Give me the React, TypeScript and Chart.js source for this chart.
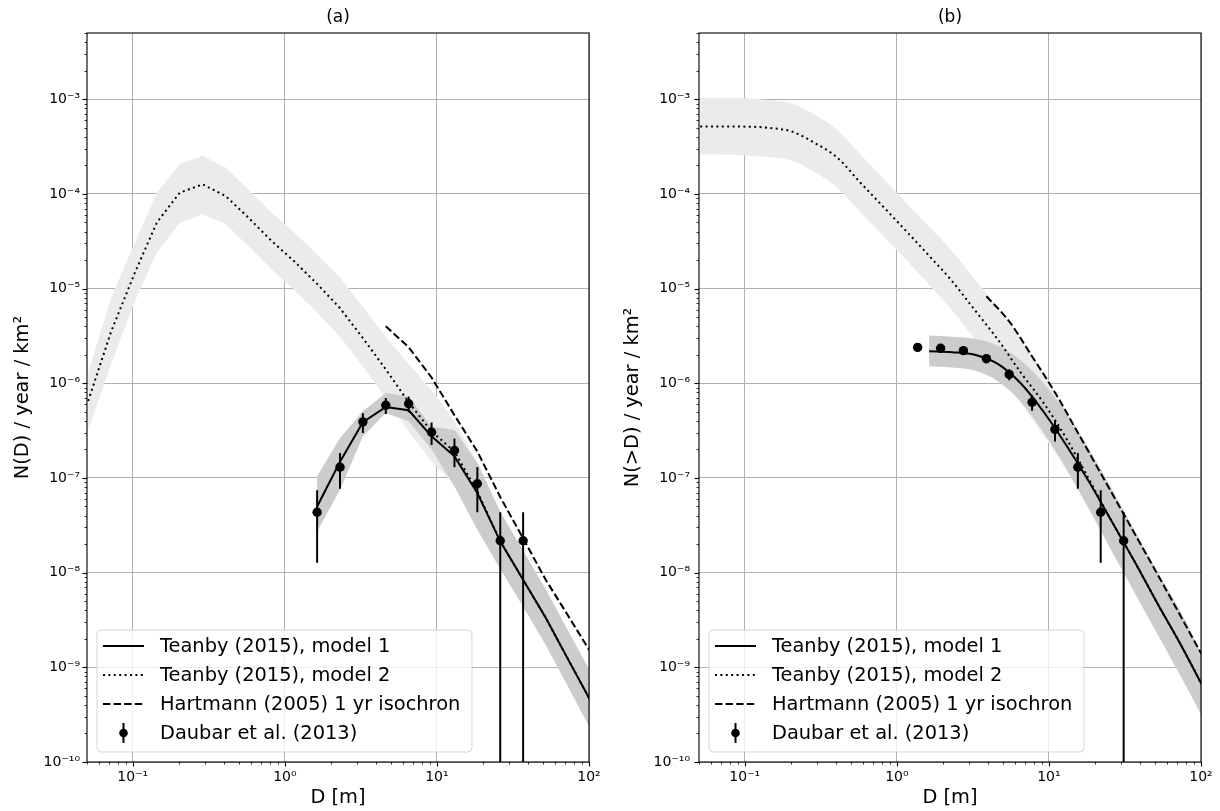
import React, { useEffect, useRef } from "react";
import { Chart, registerables } from "chart.js";
Chart.register(...registerables);

const FONT = "'DejaVu Sans', 'Liberation Sans', sans-serif";

// ---------- axis ticks ----------
const xTickValues = [0.1, 1, 10, 100];
const xTickLabels = ["10⁻¹", "10⁰", "10¹", "10²"];
const yTickValues = [1e-10, 1e-9, 1e-8, 1e-7, 1e-6, 1e-5, 1e-4, 1e-3];
const yTickLabels = ["10⁻¹⁰", "10⁻⁹", "10⁻⁸", "10⁻⁷", "10⁻⁶", "10⁻⁵", "10⁻⁴", "10⁻³"];

const legendLabels = [
  "Teanby (2015), model 1",
  "Teanby (2015), model 2",
  "Hartmann (2005) 1 yr isochron",
  "Daubar et al. (2013)",
];

// ---------- shared diameters ----------
const modelD = [0.0509, 0.072, 0.1019, 0.1441, 0.2038, 0.2881, 0.4075, 0.5763, 0.815, 1.1526, 1.63, 2.305, 3.26, 4.61, 6.52, 9.22, 13.04, 18.44, 26.08, 36.88, 52.16, 73.76, 104.3];
const binD = [1.63, 2.305, 3.26, 4.61, 6.52, 9.22, 13.04, 18.44, 26.08, 36.88, 52.16, 73.76, 104.3];
const edgeD = [1.37, 1.94, 2.74, 3.88, 5.48, 7.75, 10.96, 15.5, 21.9, 31.0];

// ---------- panel (a): N(D) ----------
const daubarA = [4.34e-8, 1.3e-7, 3.91e-7, 5.86e-7, 6.08e-7, 3.04e-7, 1.95e-7, 8.68e-8, 2.17e-8, 2.17e-8];
const daubarErrA = [3.07e-8, 5.32e-8, 9.21e-8, 1.128e-7, 1.149e-7, 8.12e-8, 6.51e-8, 4.34e-8, 2.17e-8, 2.17e-8];
const model1A = [5.0e-8, 1.48e-7, 3.88e-7, 5.62e-7, 5.19e-7, 2.75e-7, 1.69e-7, 6.93e-8, 2.14e-8, 8.4e-9, 3.3e-9, 1.17e-9, 4.2e-10];
const model1UpA = [1.04e-7, 2.64e-7, 5.06e-7, 7.9e-7, 7.2e-7, 3.5e-7, 3.2e-7, 1.45e-7, 4.4e-8, 1.7e-8, 6.6e-9, 2.35e-9, 8.4e-10];
const model1LoA = [2.72e-8, 7.5e-8, 2.75e-7, 4.86e-7, 3.98e-7, 2.0e-7, 8.1e-8, 2.84e-8, 1.1e-8, 4.4e-9, 1.7e-9, 6.0e-10, 2.1e-10];
const model2A = [6.5e-7, 3.5e-6, 1.4e-5, 5.0e-5, 1.03e-4, 1.26e-4, 9.5e-5, 5.6e-5, 3.2e-5, 1.94e-5, 1.12e-5, 6.2e-6, 3.0e-6, 1.4e-6, 6.3e-7, 3.1e-7, 1.9e-7, 7.2e-8, 2.14e-8, 8.4e-9, 3.3e-9, 1.17e-9, 4.2e-10];
const model2UpA = [1.3e-6, 8.0e-6, 2.9e-5, 1.03e-4, 2.06e-4, 2.52e-4, 1.9e-4, 1.12e-4, 6.4e-5, 3.9e-5, 2.3e-5, 1.3e-5, 6.4e-6, 3.1e-6, 1.6e-6, 8.5e-7, 4.0e-7, 1.45e-7, 4.4e-8, 1.7e-8, 6.6e-9, 2.35e-9, 8.4e-10];
const model2LoA = [3.2e-7, 1.6e-6, 7.0e-6, 2.4e-5, 4.96e-5, 6.1e-5, 4.8e-5, 2.8e-5, 1.6e-5, 9.7e-6, 5.6e-6, 3.1e-6, 1.5e-6, 7.0e-7, 3.1e-7, 1.5e-7, 8.5e-8, 2.84e-8, 1.1e-8, 4.4e-9, 1.7e-9, 6.0e-10, 2.1e-10];
const hartmannDA = [4.61, 6.52, 9.22, 13.04, 18.44, 26.08, 36.88, 52.16, 73.76, 104.3];
const hartmannA = [4.0e-6, 2.4e-6, 1.15e-6, 4.6e-7, 1.9e-7, 6.3e-8, 2.3e-8, 8.3e-9, 3.4e-9, 1.38e-9];

// ---------- panel (b): N(>D) ----------
const daubarB = [2.39e-6, 2.34e-6, 2.21e-6, 1.82e-6, 1.24e-6, 6.3e-7, 3.26e-7, 1.3e-7, 4.34e-8, 2.17e-8];
const daubarErrB = [2.28e-7, 2.25e-7, 2.19e-7, 1.99e-7, 1.64e-7, 1.17e-7, 8.4e-8, 5.3e-8, 3.07e-8, 2.17e-8];
const model1B = [2.18e-6, 2.13e-6, 2.0e-6, 1.6e-6, 1.0e-6, 5.0e-7, 2.2e-7, 9.0e-8, 3.4e-8, 1.28e-8, 4.6e-9, 1.72e-9, 6.0e-10];
const model1UpB = [3.2e-6, 3.1e-6, 2.95e-6, 2.5e-6, 1.75e-6, 1.0e-6, 4.8e-7, 2.0e-7, 7.5e-8, 2.7e-8, 1.0e-8, 3.8e-9, 1.25e-9];
const model1LoB = [1.51e-6, 1.47e-6, 1.36e-6, 1.05e-6, 6.4e-7, 3.0e-7, 1.25e-7, 4.6e-8, 1.65e-8, 6.0e-9, 2.2e-9, 8.0e-10, 2.8e-10];
const model2B = [5.14e-4, 5.14e-4, 5.13e-4, 4.98e-4, 4.55e-4, 3.45e-4, 2.4e-4, 1.31e-4, 7.3e-5, 4.04e-5, 2.22e-5, 1.2e-5, 5.9e-6, 2.9e-6, 1.3e-6, 6.2e-7, 2.6e-7, 9.5e-8, 3.4e-8, 1.28e-8, 4.6e-9, 1.72e-9, 6.0e-10];
const model2UpB = [1.03e-3, 1.03e-3, 1.02e-3, 9.8e-4, 9.0e-4, 6.9e-4, 4.7e-4, 2.6e-4, 1.45e-4, 8.0e-5, 4.5e-5, 2.5e-5, 1.25e-5, 6.3e-6, 2.9e-6, 1.3e-6, 5.0e-7, 2.0e-7, 7.5e-8, 2.7e-8, 1.0e-8, 3.8e-9, 1.25e-9];
const model2LoB = [2.6e-4, 2.6e-4, 2.55e-4, 2.45e-4, 2.25e-4, 1.7e-4, 1.15e-4, 6.4e-5, 3.6e-5, 2.0e-5, 1.1e-5, 5.9e-6, 2.9e-6, 1.4e-6, 6.2e-7, 2.8e-7, 1.2e-7, 4.6e-8, 1.65e-8, 6.0e-9, 2.2e-9, 8.0e-10, 2.8e-10];
const hartmannDB = [3.88, 5.48, 7.75, 10.96, 15.5, 21.9, 31.0, 43.9, 62.0, 87.7, 124.0];
const hartmannB = [8.3e-6, 4.5e-6, 1.92e-6, 8.0e-7, 3.0e-7, 1.12e-7, 4.16e-8, 1.54e-8, 5.7e-9, 2.07e-9, 7.6e-10];

const LIGHT = "rgb(235,235,235)";
const DARK = "rgb(204,204,204)";
const GRID = "#b0b0b0";

const pts = (xs: number[], ys: number[]) => ys.map((y, i) => ({ x: xs[i], y }));

function labelFor(v: number, vals: number[], labels: string[]) {
  for (let i = 0; i < vals.length; i++) {
    if (Math.abs(Math.log10(v) - Math.log10(vals[i])) < 1e-6) return labels[i];
  }
  return "";
}

type PanelCfg = {
  left: number;
  yAxisWidth: number;
  rightPad: number;
  tickPad: number;
  title: string;
  yTitle: string;
  smooth: boolean;
  daubarD: number[];
  daubar: number[];
  daubarErr: number[];
  m1: number[];
  m1Up: number[];
  m1Lo: number[];
  m2: number[];
  m2Up: number[];
  m2Lo: number[];
  hD: number[];
  h: number[];
};

function makeDecor() {
  return {
    id: "decor",
    beforeDatasetDraw(chart: any, args: any) {
      const ds: any = chart.data.datasets[args.index];
      if (!ds.errorBars) return;
      const { ctx, chartArea: ca } = chart;
      const xs = chart.scales.x;
      const ys = chart.scales.y;
      ctx.save();
      ctx.beginPath();
      ctx.rect(ca.left, ca.top, ca.right - ca.left, ca.bottom - ca.top);
      ctx.clip();
      ctx.strokeStyle = "#000";
      ctx.lineWidth = 2;
      ds.data.forEach((p: any, i: number) => {
        const e = ds.errorBars[i];
        const px = xs.getPixelForValue(p.x);
        const top = ys.getPixelForValue(p.y + e);
        const lo = p.y - e;
        const bottom = lo > p.y * 1e-6 ? ys.getPixelForValue(lo) : ca.bottom + 5;
        ctx.beginPath();
        ctx.moveTo(px, top);
        ctx.lineTo(px, bottom);
        ctx.stroke();
      });
      ctx.restore();
    },
    afterDraw(chart: any) {
      const { ctx, chartArea: ca } = chart;
      const xs = chart.scales.x;
      const ys = chart.scales.y;
      ctx.save();
      // tick marks (major + minor), outward
      ctx.strokeStyle = "#000";
      for (let e = -2; e <= 2; e++) {
        for (let m = 1; m <= 9; m++) {
          const v = m * Math.pow(10, e);
          if (v < 0.05 * 0.9999 || v > 100 * 1.0001) continue;
          const px = Math.round(xs.getPixelForValue(v)) + 0.5;
          const len = m === 1 ? 4.5 : 2.5;
          ctx.lineWidth = m === 1 ? 1.1 : 0.8;
          ctx.beginPath();
          ctx.moveTo(px, ca.bottom);
          ctx.lineTo(px, ca.bottom + len);
          ctx.stroke();
        }
      }
      for (let e = -10; e <= -3; e++) {
        for (let m = 1; m <= 9; m++) {
          const v = m * Math.pow(10, e);
          if (v > 5e-3 * 1.0001) continue;
          const py = Math.round(ys.getPixelForValue(v)) + 0.5;
          const len = m === 1 ? 4.5 : 2.5;
          ctx.lineWidth = m === 1 ? 1.1 : 0.8;
          ctx.beginPath();
          ctx.moveTo(ca.left, py);
          ctx.lineTo(ca.left - len, py);
          ctx.stroke();
        }
      }
      // frame
      ctx.lineWidth = 1.1;
      ctx.strokeStyle = "#000";
      ctx.strokeRect(ca.left, ca.top, ca.right - ca.left, ca.bottom - ca.top);

      // legend
      const bx = ca.left + 10;
      const bw = 375;
      const bh = 122;
      const by = ca.bottom - 10 - bh;
      ctx.beginPath();
      const r = 4;
      ctx.moveTo(bx + r, by);
      ctx.lineTo(bx + bw - r, by);
      ctx.arcTo(bx + bw, by, bx + bw, by + r, r);
      ctx.lineTo(bx + bw, by + bh - r);
      ctx.arcTo(bx + bw, by + bh, bx + bw - r, by + bh, r);
      ctx.lineTo(bx + r, by + bh);
      ctx.arcTo(bx, by + bh, bx, by + bh - r, r);
      ctx.lineTo(bx, by + r);
      ctx.arcTo(bx, by, bx + r, by, r);
      ctx.closePath();
      ctx.fillStyle = "rgba(255,255,255,0.8)";
      ctx.fill();
      ctx.strokeStyle = "rgba(204,204,204,0.8)";
      ctx.lineWidth = 1;
      ctx.stroke();

      const rows = [16, 45, 74, 103];
      const hx0 = bx + 6;
      const hx1 = bx + 47;
      const dashes = [[], [2, 3.4], [7.4, 3.2]];
      ctx.strokeStyle = "#000";
      ctx.fillStyle = "#000";
      for (let i = 0; i < 3; i++) {
        const yy = by + rows[i];
        ctx.setLineDash(dashes[i]);
        ctx.lineWidth = 2;
        ctx.lineCap = "butt";
        ctx.beginPath();
        ctx.moveTo(hx0, yy);
        ctx.lineTo(hx1, yy);
        ctx.stroke();
      }
      ctx.setLineDash([]);
      const cx = (hx0 + hx1) / 2;
      const cy = by + rows[3];
      ctx.lineWidth = 2;
      ctx.beginPath();
      ctx.moveTo(cx, cy - 10);
      ctx.lineTo(cx, cy + 10);
      ctx.stroke();
      ctx.beginPath();
      ctx.arc(cx, cy, 4.3, 0, Math.PI * 2);
      ctx.fill();

      ctx.font = `19.4px ${FONT}`;
      ctx.textBaseline = "middle";
      ctx.textAlign = "left";
      for (let i = 0; i < 4; i++) {
        ctx.fillText(legendLabels[i], bx + 63, by + rows[i] + 1);
      }
      ctx.restore();
    },
  };
}

function Panel({ cfg }: { cfg: PanelCfg }) {
  const ref = useRef<HTMLCanvasElement>(null);
  useEffect(() => {
    const tension = cfg.smooth ? "monotone" : "default";
    const band = (data: any[], color: string | null, order: number) => ({
      data,
      showLine: true,
      borderWidth: 0,
      borderColor: "rgba(0,0,0,0)",
      backgroundColor: color || "rgba(0,0,0,0)",
      pointRadius: 0,
      pointHoverRadius: 0,
      fill: color ? "+1" : false,
      order,
      cubicInterpolationMode: tension,
    });
    const chart = new Chart(ref.current as HTMLCanvasElement, {
      type: "scatter",
      data: {
        datasets: [
          band(pts(modelD, cfg.m2Up), LIGHT, 10),
          band(pts(modelD, cfg.m2Lo), null, 10),
          band(pts(binD, cfg.m1Up), DARK, 9),
          band(pts(binD, cfg.m1Lo), null, 9),
          {
            data: pts(cfg.hD, cfg.h),
            showLine: true,
            borderColor: "#000",
            borderWidth: 2,
            borderDash: [7.4, 3.2],
            pointRadius: 0,
            fill: false,
            order: 4,
            cubicInterpolationMode: tension,
          },
          {
            data: pts(modelD, cfg.m2),
            showLine: true,
            borderColor: "#000",
            borderWidth: 2,
            borderDash: [2, 3.4],
            pointRadius: 0,
            fill: false,
            order: 3,
            cubicInterpolationMode: tension,
          },
          {
            data: pts(binD, cfg.m1),
            showLine: true,
            borderColor: "#000",
            borderWidth: 2,
            pointRadius: 0,
            fill: false,
            order: 2,
            cubicInterpolationMode: tension,
          },
          {
            data: pts(cfg.daubarD, cfg.daubar),
            errorBars: cfg.daubarErr,
            showLine: false,
            pointRadius: 4.7,
            pointBackgroundColor: "#000",
            pointBorderColor: "#000",
            pointBorderWidth: 0,
            order: 1,
          } as any,
        ],
      },
      options: {
        animation: false,
        responsive: false,
        devicePixelRatio: 1,
        events: [],
        layout: { padding: { left: 0, right: cfg.rightPad, top: 0, bottom: 0 } },
        plugins: {
          legend: { display: false },
          tooltip: { enabled: false },
          title: {
            display: true,
            text: cfg.title,
            fullSize: false,
            color: "#000",
            font: { family: FONT, size: 17, weight: "normal" },
            padding: { top: 7, bottom: 5.6 },
          },
        },
        scales: {
          x: {
            type: "logarithmic",
            min: 0.05,
            max: 100,
            bounds: "data",
            afterBuildTicks: (s: any) => {
              s.ticks = xTickValues.map((v) => ({ value: v, major: true }));
            },
            afterFit: (s: any) => {
              s.height = 49;
            },
            ticks: {
              autoSkip: false,
              maxRotation: 0,
              padding: 7,
              color: "#000",
              font: { family: FONT, size: 14 },
              callback: (v: any) => labelFor(Number(v), xTickValues, xTickLabels),
            },
            grid: { color: GRID, lineWidth: 1, drawTicks: false },
            border: { display: false },
            title: {
              display: true,
              text: "D [m]",
              color: "#000",
              font: { family: FONT, size: 19.4 },
              padding: { top: 0, bottom: 1 },
            },
          },
          y: {
            type: "logarithmic",
            min: 1e-10,
            max: 5e-3,
            bounds: "data",
            afterBuildTicks: (s: any) => {
              s.ticks = yTickValues.map((v) => ({ value: v, major: true }));
            },
            afterFit: (s: any) => {
              s.width = cfg.yAxisWidth;
            },
            ticks: {
              autoSkip: false,
              padding: cfg.tickPad,
              color: "#000",
              font: { family: FONT, size: 14 },
              callback: (v: any) => labelFor(Number(v), yTickValues, yTickLabels),
            },
            grid: { color: GRID, lineWidth: 1, drawTicks: false },
            border: { display: false },
            title: {
              display: true,
              text: cfg.yTitle,
              color: "#000",
              font: { family: FONT, size: 19.4 },
              padding: { top: 11.5, bottom: 0 },
            },
          },
        },
      } as any,
      plugins: [makeDecor()],
    });
    return () => chart.destroy();
  }, []);
  return (
    <div style={{ position: "absolute", left: cfg.left, top: 0, width: 610, height: 811 }}>
      <canvas ref={ref} width={610} height={811} style={{ display: "block", width: 610, height: 811 }} />
    </div>
  );
}

const panelA: PanelCfg = {
  left: 0,
  yAxisWidth: 87,
  rightPad: 21,
  tickPad: 7,
  title: "(a)",
  yTitle: "N(D) / year / km²",
  smooth: false,
  daubarD: binD.slice(0, 10),
  daubar: daubarA,
  daubarErr: daubarErrA,
  m1: model1A,
  m1Up: model1UpA,
  m1Lo: model1LoA,
  m2: model2A,
  m2Up: model2UpA,
  m2Lo: model2LoA,
  hD: hartmannDA,
  h: hartmannA,
};

const panelB: PanelCfg = {
  left: 610,
  yAxisWidth: 89,
  rightPad: 19,
  tickPad: 9,
  title: "(b)",
  yTitle: "N(>D) / year / km²",
  smooth: true,
  daubarD: edgeD,
  daubar: daubarB,
  daubarErr: daubarErrB,
  m1: model1B,
  m1Up: model1UpB,
  m1Lo: model1LoB,
  m2: model2B,
  m2Up: model2UpB,
  m2Lo: model2LoB,
  hD: hartmannDB,
  h: hartmannB,
};

export default function App() {
  return (
    <div style={{ position: "absolute", left: 0, top: 0, width: 1220, height: 811, background: "#fff" }}>
      <Panel cfg={panelA} />
      <Panel cfg={panelB} />
    </div>
  );
}
